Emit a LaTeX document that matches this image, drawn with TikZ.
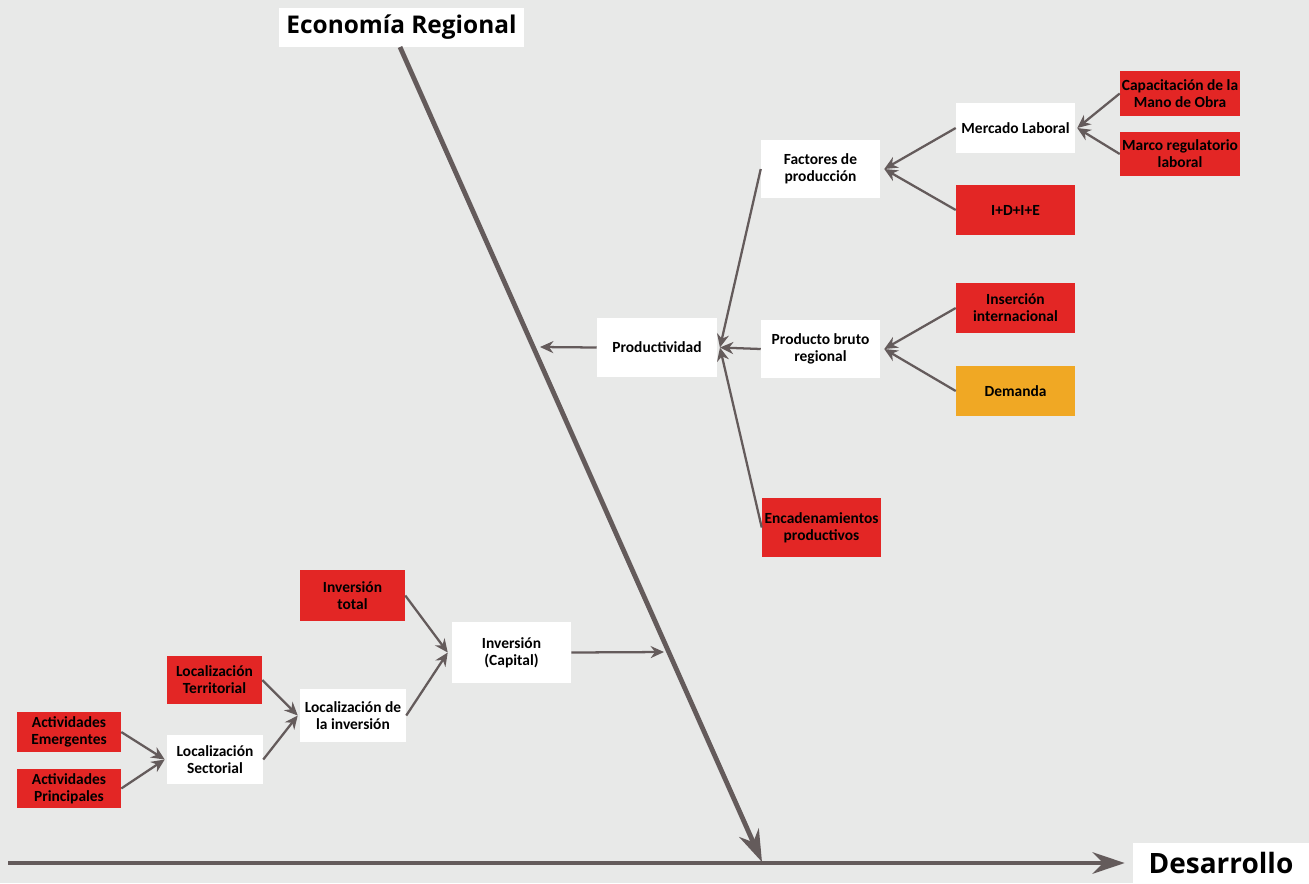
\documentclass[tikz,border=0pt]{standalone}
\usepackage{fontspec}
\setmainfont{Carlito}
\newfontfamily\titlefont{Open Sans}
\usepackage{xcolor}
\usetikzlibrary{arrows.meta, positioning}

\definecolor{bgray}{HTML}{E8E9E8}
\definecolor{fred}{HTML}{E32625}
\definecolor{forange}{HTML}{F0A824}
\definecolor{lgray}{HTML}{645B5B}

\begin{document}
\begin{tikzpicture}[x=0.75pt, y=-0.75pt,
    wbox/.style={fill=white, inner sep=0pt, align=center, font=\bfseries\fontsize{11.6}{12.8}\selectfont},
    rbox/.style={wbox, fill=fred},
    obox/.style={wbox, fill=forange},
    tbox/.style={fill=white, inner sep=0pt, font=\titlefont\bfseries\fontsize{18.3}{20}\selectfont},
    link/.style={draw=lgray, line width=1.7pt, -{Stealth[length=10pt, width=9pt]}},
    spine/.style={draw=lgray, line width=3.6pt, -{Stealth[length=24pt, width=16pt]}}]
            \fill[bgray] (0, 0) rectangle (1309, 883);
            \useasboundingbox (0, 0) rectangle (1309, 883);

            % titles
            \node[tbox, minimum width=183.75pt, minimum height=29.25pt] (eco) at (401.5, 27.5) {Economía Regional};
            \node[tbox, font=\titlefont\bfseries\fontsize{21}{24}\selectfont, minimum width=132pt, minimum height=30pt] (des) at (1221, 863) {Desarrollo};

            % upper branch
            \node[wbox, minimum width=90pt, minimum height=44.25pt] (prod) at (657, 347.5) {Productividad};
            \node[wbox, minimum width=89.25pt, minimum height=43.5pt] (fact) at (820.5, 169) {Factores de\\producción};
            \node[wbox, minimum width=89.25pt, minimum height=43.5pt] (pbr) at (820.5, 349) {Producto bruto\\regional};
            \node[rbox, minimum width=89.25pt, minimum height=44.25pt] (enc) at (821.5, 527.5) {Encadenamientos\\productivos};
            \node[wbox, minimum width=89.25pt, minimum height=37.5pt] (merc) at (1015.5, 128) {Mercado Laboral};
            \node[rbox, minimum width=90pt, minimum height=33.5pt] (cap) at (1180, 93.5) {Capacitación de la\\Mano de Obra};
            \node[rbox, minimum width=90pt, minimum height=33.5pt] (marco) at (1180, 154) {Marco regulatorio\\laboral};
            \node[rbox, minimum width=89.25pt, minimum height=37.5pt] (idie) at (1015.5, 210) {I+D+I+E};
            \node[rbox, minimum width=89.25pt, minimum height=37.5pt] (ins) at (1015.5, 308) {Inserción\\internacional};
            \node[obox, minimum width=89.25pt, minimum height=37.5pt] (dem) at (1015.5, 391) {Demanda};

            % lower branch
            \node[rbox, minimum width=78.75pt, minimum height=38.25pt] (invt) at (352.5, 595.5) {Inversión\\total};
            \node[wbox, minimum width=89.25pt, minimum height=45.75pt] (invc) at (511.5, 652.5) {Inversión\\(Capital)};
            \node[rbox, minimum width=71.25pt, minimum height=36pt] (loct) at (214.5, 680) {Localización\\Territorial};
            \node[wbox, minimum width=79.5pt, minimum height=39.75pt] (loci) at (353, 715.5) {Localización de\\la inversión};
            \node[wbox, minimum width=72pt, minimum height=36.75pt] (locs) at (215, 759.5) {Localización\\Sectorial};
            \node[rbox, minimum width=78pt, minimum height=29.5pt] (acte) at (69, 732) {Actividades\\Emergentes};
            \node[rbox, minimum width=78pt, minimum height=29.5pt] (actp) at (69, 788.5) {Actividades\\Principales};

            \coordinate (top) at (400, 47);
            \coordinate (tip) at (762, 862);
            \coordinate (start) at (8, 863);
            \coordinate (pin) at (540, 347);
            \coordinate (cin) at (664, 652);

            % spines
            \draw[spine] (top) -- (tip);
            \draw[spine] (start) -- ([xshift=-6pt]des.west);

            \draw[link] (cap.west) -- ([xshift=1.5pt]merc.east);
            \draw[link] (marco.west) -- ([xshift=1.5pt]merc.east);
            \draw[link] (merc.west) -- ([xshift=3pt]fact.east);
            \draw[link] (idie.west) -- ([xshift=3pt]fact.east);
            \draw[link] (ins.west) -- ([xshift=3pt]pbr.east);
            \draw[link] (dem.west) -- ([xshift=3pt]pbr.east);
            \draw[link] (fact.west) -- ([xshift=2pt]prod.east);
            \draw[link] (pbr.west) -- ([xshift=2pt]prod.east);
            \draw[link] (enc.west) -- ([xshift=2pt]prod.east);
            \draw[link] (prod.west) -- (pin);

            \draw[link] (acte.east) -- ([xshift=-1.5pt]locs.west);
            \draw[link] (actp.east) -- ([xshift=-1.5pt]locs.west);
            \draw[link] (loct.east) -- ([xshift=-1.5pt]loci.west);
            \draw[link] (locs.east) -- ([xshift=-1.5pt]loci.west);
            \draw[link] (invt.east) -- ([xshift=-3pt]invc.west);
            \draw[link] (loci.east) -- ([xshift=-3pt]invc.west);
            \draw[link] (invc.east) -- (cin);
        \end{tikzpicture}
\end{document}
